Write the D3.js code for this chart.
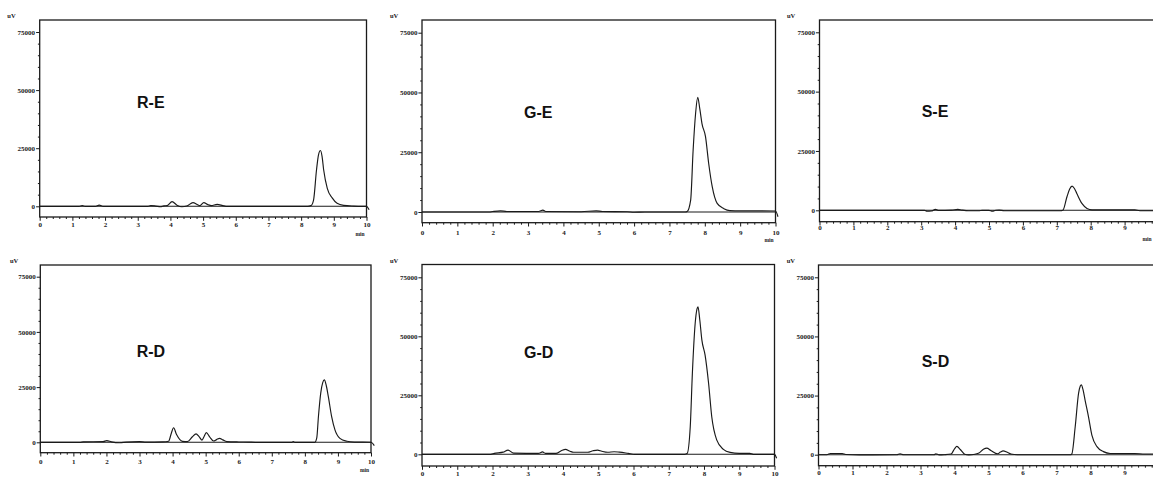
<!DOCTYPE html>
<html><head><meta charset="utf-8">
<script src="https://cdn.jsdelivr.net/npm/d3@7"></script>
<style>html,body{margin:0;padding:0;background:#fff;overflow:hidden}</style>
</head><body>
<svg id="c" width="1153" height="481"></svg>
<script>
// ---------- DATA ----------
const panelNames = ["R-E", "G-E", "S-E", "R-D", "G-D", "S-D"];
const xTickValues = [0, 1, 2, 3, 4, 5, 6, 7, 8, 9, 10];
const yTickValues = [0, 25000, 50000, 75000];
const yUnit = "uV";
const xUnit = "min";
const baselineValue = 0;

// chromatogram traces: [time (min), signal (uV)]
const traceRE = [[0,0],[1.2,0],[1.3,300],[1.4,0],[1.7,0],[1.82,500],[1.95,0],[3.3,0],[3.4,300],[3.55,100],[3.7,-200],[3.8,200],[3.9,300],[4.05,2000],[4.2,500],[4.35,-200],[4.5,100],[4.69,1600],[4.82,800],[4.9,300],[5.02,1600],[5.15,700],[5.25,300],[5.43,800],[5.6,300],[5.7,0],[8.2,0],[8.3,300],[8.38,2700],[8.47,15600],[8.53,22000],[8.59,24000],[8.64,21500],[8.69,15600],[8.8,7700],[8.95,3600],[9.1,1300],[9.3,400],[9.6,100],[9.9,0],[10,0],[10.08,-1500]];
const traceGE = [[0,0],[1.9,0],[2.0,200],[2.22,500],[2.4,200],[3.3,200],[3.42,800],[3.5,200],[4.5,100],[4.93,500],[5.1,200],[5.8,100],[6.0,-100],[6.3,0],[7.45,0],[7.5,200],[7.6,5000],[7.67,25900],[7.74,41300],[7.8,48000],[7.86,43000],[7.92,37000],[8.02,31500],[8.11,20300],[8.21,10600],[8.35,3600],[8.54,1400],[8.71,600],[9.0,500],[9.5,500],[10,400],[10.07,-2000]];
const traceSE = [[0,0],[3.1,0],[3.17,-400],[3.3,-300],[3.42,400],[3.5,0],[3.9,100],[4.08,400],[4.2,100],[4.4,-200],[4.7,-200],[4.8,0],[5.0,0],[5.1,-400],[5.2,0],[5.3,100],[5.45,-200],[7.1,-200],[7.18,0],[7.3,5700],[7.38,9000],[7.45,10200],[7.52,9200],[7.59,7100],[7.74,2900],[7.89,800],[8.04,200],[9.3,200],[9.45,-200],[10,-200]];
const traceRD = [[0,0],[1.2,0],[1.3,200],[1.9,300],[2.01,750],[2.15,200],[2.4,-200],[2.6,100],[3.0,300],[3.2,100],[3.7,200],[3.88,500],[3.96,4000],[4.03,6600],[4.12,3500],[4.3,450],[4.45,300],[4.6,2500],[4.71,3800],[4.8,2600],[4.89,1000],[4.95,2500],[5.02,4400],[5.12,2500],[5.24,600],[5.33,1200],[5.42,1800],[5.52,1100],[5.64,300],[6.0,150],[6.3,100],[6.5,0],[7.6,0],[7.65,300],[7.7,0],[8.3,0],[8.36,2000],[8.41,11600],[8.48,22300],[8.54,27000],[8.59,28300],[8.65,25500],[8.71,20700],[8.81,11600],[8.91,5600],[9.06,1800],[9.27,500],[9.5,100],[10,0],[10.1,-1500]];
const traceGD = [[0,0],[1.95,0],[2.05,400],[2.3,900],[2.44,1800],[2.6,500],[3.3,400],[3.42,1000],[3.5,400],[3.8,400],[3.95,1500],[4.07,2100],[4.2,1300],[4.3,850],[4.7,850],[4.85,1500],[4.98,1800],[5.1,1300],[5.27,850],[5.45,1100],[5.6,900],[5.85,400],[6.04,0],[7.45,0],[7.52,300],[7.61,11700],[7.67,34300],[7.75,55500],[7.8,61500],[7.83,62500],[7.88,57000],[7.94,48400],[8.03,42100],[8.13,30100],[8.22,15900],[8.36,6100],[8.55,2100],[8.74,800],[9.0,400],[9.3,400],[9.4,0],[10,0],[10.06,-1700]];
const traceSD = [[0,0],[0.25,0],[0.35,500],[0.7,500],[0.8,100],[1.2,-100],[2.3,0],[2.4,400],[2.5,0],[3.4,0],[3.45,400],[3.55,-100],[3.7,0],[3.9,300],[4.0,2500],[4.07,3500],[4.17,2200],[4.3,200],[4.42,-100],[4.6,200],[4.72,700],[4.85,2300],[4.95,2800],[5.07,1800],[5.27,400],[5.35,1100],[5.43,1600],[5.55,1000],[5.66,300],[5.85,0],[7.4,0],[7.45,300],[7.55,11800],[7.65,26000],[7.7,29000],[7.73,29500],[7.78,27500],[7.84,23100],[7.94,16100],[8.04,8300],[8.19,3400],[8.38,1300],[8.58,500],[9.3,500],[9.6,300],[10,300]];
const traces = [traceRE, traceGE, traceSE, traceRD, traceGD, traceSD];

// ---------- LAYOUT (pixels) ----------
const W = 1153, H = 481;
const layouts = [
  {left:39.7, right:366.5, top:20,    axisY:217,   y0:206.3, y75:32,    tx:137,   ty:108,   ux:7.3,  uy:18,    lab:10.5},
  {left:422,  right:775.5, top:20,    axisY:222.7, y0:212,   y75:32.7,  tx:524,   ty:118,   ux:390,  uy:17.5,  lab:12.3},
  {left:819.5,right:1158.5,top:20,    axisY:221.7, y0:210.3, y75:32.3,  tx:921.7, ty:117,   ux:787,  uy:17.5,  lab:8.8},
  {left:40.3, right:371,   top:265,   axisY:452.7, y0:442.3, y75:276.7, tx:136.7, ty:357.3, ux:10,   uy:262.5, lab:11.3},
  {left:422,  right:774.5, top:264.5, axisY:466,   y0:454.3, y75:277.3, tx:524,   ty:358,   ux:390,  uy:263,   lab:10.7},
  {left:818.5,right:1158.5,top:265,   axisY:465.7, y0:454.7, y75:277.3, tx:921.7, ty:366.7, ux:786.7,uy:262.7, lab:9.3}
];

const svg = d3.select("#c");
const ink = "#1a1a1a";

layouts.forEach((L, i) => {
  const g = svg.append("g");
  const x = d3.scaleLinear().domain([0, 10]).range([L.left, L.right]);
  const y = d3.scaleLinear().domain([0, 75000]).range([L.y0, L.y75]);

  // frame
  g.append("rect")
    .attr("x", L.left).attr("y", L.top)
    .attr("width", L.right - L.left).attr("height", L.axisY - L.top)
    .attr("fill", "none").attr("stroke", ink).attr("stroke-width", 1.3);

  // only label ticks that land inside the page
  const visibleX = xTickValues.filter(v => x(v) + 3 < W);

  const yMinor = d3.range(5000, 80000, 5000).filter(v => v % 25000 !== 0);
  const yMin = g.append("g").attr("transform", `translate(${L.left},0)`)
    .call(d3.axisLeft(y).tickValues(yMinor).tickSize(1.8).tickFormat(""));
  const yMaj = g.append("g").attr("transform", `translate(${L.left},0)`)
    .call(d3.axisLeft(y).tickValues(yTickValues).tickSize(3.6).tickPadding(1).tickFormat(d3.format("d")));
  const xMinor = d3.range(0.2, 10, 0.2).filter(v => Math.abs(v - Math.round(v)) > 1e-6);
  const xMin = g.append("g").attr("transform", `translate(0,${L.axisY})`)
    .call(d3.axisBottom(x).tickValues(xMinor).tickSize(2).tickFormat(""));
  const xMaj = g.append("g").attr("transform", `translate(0,${L.axisY})`)
    .call(d3.axisBottom(x).tickValues(visibleX).tickSize(3.8).tickPadding(L.lab - 9).tickFormat(d3.format("d")));

  [yMin, yMaj, xMin, xMaj].forEach(a => {
    a.select(".domain").remove();
    a.selectAll("line").attr("stroke", ink).attr("stroke-width", 1);
    a.selectAll("text").attr("fill", ink)
      .style("font-family", "'Liberation Serif', 'DejaVu Serif', serif")
      .style("font-weight", "bold").style("font-size", "7px");
  });

  // baseline
  g.append("line")
    .attr("x1", x(0)).attr("x2", x(10))
    .attr("y1", y(baselineValue)).attr("y2", y(baselineValue))
    .attr("stroke", ink).attr("stroke-width", 1.1);

  // trace
  const line = d3.line().x(d => x(d[0])).y(d => y(d[1])).curve(d3.curveMonotoneX);
  g.append("path").datum(traces[i]).attr("d", line)
    .attr("fill", "none").attr("stroke", ink).attr("stroke-width", 1.15)
    .attr("stroke-linejoin", "round");

  // units
  g.append("text").attr("x", L.ux).attr("y", L.uy).text(yUnit)
    .attr("fill", ink).style("font-family", "'Liberation Serif', serif")
    .style("font-weight", "bold").style("font-size", "6.5px");
  const mx = Math.min(L.right - 6.5, W - 6), my = L.axisY + 19;
  if (my < H - 1) {
    g.append("text").attr("x", mx).attr("y", my).attr("text-anchor", "middle").text(xUnit)
      .attr("fill", ink).style("font-family", "'Liberation Serif', serif")
      .style("font-weight", "bold").style("font-size", "5.5px");
  }

  // panel title
  g.append("text").attr("x", L.tx).attr("y", L.ty).text(panelNames[i])
    .attr("fill", "#111").style("font-family", "'Liberation Sans', Arial, sans-serif")
    .style("font-weight", "bold").style("font-size", "16px");
});
</script>
</body></html>
